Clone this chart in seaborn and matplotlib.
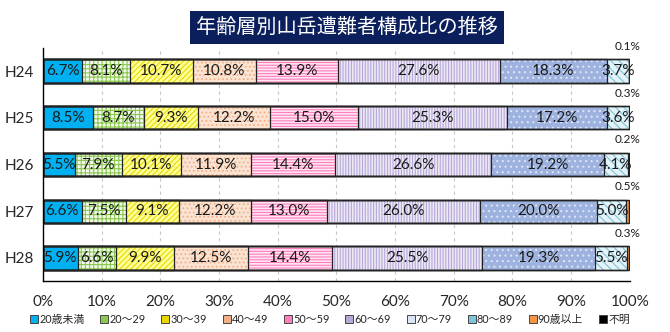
import matplotlib
matplotlib.use("Agg")
import matplotlib.pyplot as plt
import matplotlib.patches as mpatches
import numpy as np
import pandas as pd
import seaborn as sns

years = ["H24", "H25", "H26", "H27", "H28"]
age_groups = ["20歳未満", "20～29", "30～39", "40～49", "50～59",
              "60～69", "70～79", "80～89", "90歳以上", "不明"]
v_under20 = [6.7, 8.5, 5.5, 6.6, 5.9]
v_20s = [8.1, 8.7, 7.9, 7.5, 6.6]
v_30s = [10.7, 9.3, 10.1, 9.1, 9.9]
v_40s = [10.8, 12.2, 11.9, 12.2, 12.5]
v_50s = [13.9, 15.0, 14.4, 13.0, 14.4]
v_60s = [27.6, 25.3, 26.6, 26.0, 25.5]
v_70s = [18.3, 17.2, 19.2, 20.0, 19.3]
v_80s = [3.7, 3.6, 4.1, 5.0, 5.5]
v_90plus = [0.0, 0.3, 0.2, 0.5, 0.3]
v_unknown = [0.1, 0.0, 0.0, 0.0, 0.0]
title = "年齢層別山岳遭難者構成比の推移"
xticks = [0, 10, 20, 30, 40, 50, 60, 70, 80, 90, 100]

series = [v_under20, v_20s, v_30s, v_40s, v_50s, v_60s, v_70s, v_80s, v_90plus, v_unknown]

# style: (face, hatch, hatchcolor)
styles = [
    ("#00B0F0", None, None),
    ("#F2F9EA", "++++", "#8CC850"),
    ("#FFFF99", "//////", "#E8D800"),
    ("#FBE3D2", "....", "#F2B08A"),
    ("#FFE6F2", "------", "#FF7FBF"),
    ("#EDE8F5", "||||||", "#B7A8D8"),
    ("#9DB2DE", "...", "#DCE4F5"),
    ("#E4F3F8", "\\\\\\\\", "#7EC4DA"),
    ("#F79646", None, None),
    ("#000000", None, None),
]

sns.set_theme(style="white")
plt.rcParams["font.family"] = ["Lato", "Noto Sans CJK JP", "DejaVu Sans"]
plt.rcParams["hatch.linewidth"] = 0.8

fig = plt.figure(figsize=(6.70, 3.32), dpi=100)
ax = fig.add_axes([0.064, 0.153, 0.876, 0.703])

data = np.array(series)  # (10, 5)
cum = np.cumsum(data, axis=0)

# draw cumulative bars, largest first
for i in range(len(series) - 1, -1, -1):
    face, hatch, hcol = styles[i]
    df = pd.DataFrame({"year": years, "value": cum[i]})
    kws = dict(data=df, x="value", y="year", orient="h", width=0.5,
               color=face, saturation=1, errorbar=None, ax=ax)
    if hatch:
        sns.barplot(**kws, hatch=hatch, edgecolor=hcol, linewidth=0)
    else:
        sns.barplot(**kws, edgecolor=face, linewidth=0)

# outlines
for i in range(len(series)):
    df = pd.DataFrame({"year": years, "value": cum[i]})
    sns.barplot(data=df, x="value", y="year", orient="h", width=0.5,
                fill=False, edgecolor="#222222", linewidth=0.9,
                errorbar=None, ax=ax)

# labels
for j in range(len(years)):
    for i in range(8):
        left = cum[i][j] - data[i][j]
        ax.text(left + data[i][j] / 2, j, f"{data[i][j]:.1f}%",
                ha="center", va="center", fontsize=11, color="#1a1a1a")
    small = v_90plus[j] if v_90plus[j] > 0 else v_unknown[j]
    ax.text(99.6, j - 0.53, f"{small:.1f}%", ha="center", va="center",
            fontsize=8.5, color="#1a1a1a")

ax.set_xlim(0, 100)
ax.set_ylim(4.5, -0.5)
ax.set_xticks(xticks)
ax.set_xticklabels([f"{t}%" for t in xticks], fontsize=11)
ax.tick_params(axis="x", length=0, pad=10)
ax.tick_params(axis="y", length=0, pad=14)
ax.set_yticks(range(len(years)))
ax.set_yticklabels(years, fontsize=11, ha="left")
for lab in ax.get_yticklabels():
    lab.set_x(-0.066)
ax.yaxis.set_tick_params(pad=0)
ax.set_xlabel("")
ax.set_ylabel("")
ax.xaxis.grid(True, color="#c8c8c8", linestyle=(0, (3, 3)), linewidth=0.8)
ax.set_axisbelow(True)
for s in ["top", "right"]:
    ax.spines[s].set_visible(False)
for s in ["left", "bottom"]:
    ax.spines[s].set_color("#000000")
    ax.spines[s].set_linewidth(1.0)

# title
fig.text(0.518, 0.918, title, ha="center", va="center", fontsize=14.5,
         color="white", family=["Noto Sans CJK JP"],
         bbox=dict(boxstyle="square,pad=0.3", facecolor="#0B1F5C", edgecolor="none"))

# legend
handles = []
for i, lab in enumerate(age_groups):
    face, hatch, hcol = styles[i]
    p = mpatches.Patch(facecolor=face if hatch is None else hcol,
                       edgecolor="#444444", linewidth=0.7, label=lab)
    handles.append(p)
fig.legend(handles=handles, loc="center left", bbox_to_anchor=(0.045, 0.037),
           ncol=10, frameon=False, fontsize=7.8, handlelength=0.75,
           handleheight=0.75, handletextpad=0.1, columnspacing=1.45,
           borderaxespad=0, borderpad=0)

fig.savefig("out.png", dpi=100)
